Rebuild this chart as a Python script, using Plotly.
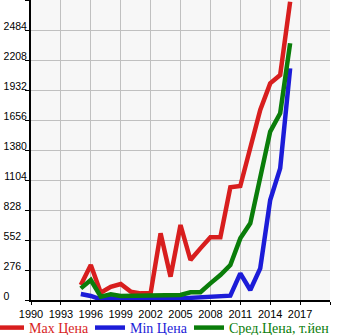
import plotly.graph_objects as go

years = list(range(1995, 2017))
max_price = [138, 322, 67, 122, 147, 77, 61, 61, 613, 215, 690, 368, 475, 577, 577, 1037, 1049, 1410, 1748, 1993, 2070, 2744]
min_price = [55, 37, 6, 15, 8, 5, 4, 4, 6, 10, 15, 27, 25, 37, 37, 40, 245, 92, 291, 920, 1211, 2131]
avg_price = [107, 184, 31, 52, 37, 37, 37, 37, 37, 40, 46, 71, 71, 153, 230, 322, 567, 705, 1104, 1549, 1718, 2362]

x_ticks = list(range(1990, 2021, 3))
x_labels = [str(v) if v < 2020 else "" for v in x_ticks]
y_ticks = [0, 276, 552, 828, 1104, 1380, 1656, 1932, 2208, 2484, 2760]
FS = "\u2007"
y_labels = [(str(v) + FS * (4 - len(str(v)))) if v < 2760 else "" for v in y_ticks]

names = ["Max Цена", "Min Цена", "Сред.Цена, т.йен"]
colors = ["#d81e1e", "#1c1cd8", "#0a7d0a"]
series = [max_price, min_price, avg_price]
legend_ids = ["legend", "legend2", "legend3"]
legend_x_px = [-11, 90, 189]

fig = go.Figure()
for name, col, vals, lg in zip(names, colors, series, legend_ids):
    fig.add_trace(go.Scatter(x=years, y=vals, mode="lines", name=name,
                             line=dict(color=col, width=4.5), legend=lg))

L, T, W, H = 31, 0, 299, 300

def legend_cfg(px, col):
    return dict(orientation="h", xref="paper", yref="paper",
                x=(px - L) / W, xanchor="left", y=-(328 - H) / H, yanchor="middle",
                bgcolor="rgba(0,0,0,0)", borderwidth=0, itemwidth=30,
                font=dict(family="Liberation Serif", size=14, color=col))

fig.update_layout(
    width=345, height=335,
    margin=dict(l=31, r=15, t=0, b=35, autoexpand=False),
    paper_bgcolor="white", plot_bgcolor="#f7f7f7",
    showlegend=True,
    legend=legend_cfg(legend_x_px[0], colors[0]),
    legend2=legend_cfg(legend_x_px[1], colors[1]),
    legend3=legend_cfg(legend_x_px[2], colors[2]),
    font=dict(family="Liberation Sans", size=11, color="black"),
)
fig.update_xaxes(range=[1990, 2020], tickmode="array", tickvals=x_ticks, ticktext=x_labels,
                 showgrid=True, gridcolor="#c0c0c0", gridwidth=1,
                 showline=True, linecolor="black", linewidth=2,
                 ticks="outside", ticklen=3, tickcolor="black", tickwidth=1,
                 zeroline=False, tickfont=dict(family="Liberation Sans", size=11))
fig.update_yaxes(range=[0, 2760], tickmode="array", tickvals=y_ticks, ticktext=y_labels,
                 showgrid=True, gridcolor="#c0c0c0", gridwidth=1,
                 showline=True, linecolor="black", linewidth=2,
                 ticks="outside", ticklen=4, tickcolor="black", tickwidth=1,
                 zeroline=False, ticklabelshift=-4, ticklabelstandoff=-4,
                 tickfont=dict(family="Liberation Sans", size=10.5))

fig.write_html("out.html")
